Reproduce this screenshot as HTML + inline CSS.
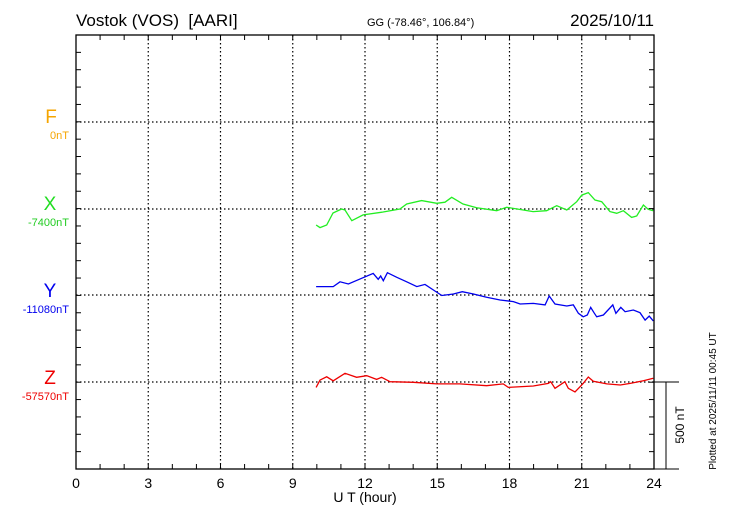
<!DOCTYPE html>
<html><head><meta charset="utf-8"><style>
body{margin:0;background:#fff;}
svg{display:block;font-family:"Liberation Sans",sans-serif;}
</style></head><body>
<svg id="chart" width="730" height="520" viewBox="0 0 730 520" xmlns="http://www.w3.org/2000/svg">
<text x="76" y="26" font-size="17" xml:space="preserve" style="white-space:pre">Vostok (VOS)  [AARI]</text>
<text x="367" y="26" font-size="11">GG (-78.46°, 106.84°)</text>
<text x="654" y="26" font-size="17" text-anchor="end">2025/10/11</text>
<g id="grid"></g>
<g id="series"></g>
<g id="axes"></g>
<text x="365" y="502" font-size="14" text-anchor="middle">U T (hour)</text>
<text x="51" y="123" font-size="19" fill="#f5a500" text-anchor="middle">F</text>
<text x="69" y="139" font-size="11" fill="#f5a500" text-anchor="end">0nT</text>
<text x="50" y="210" font-size="19" fill="#22dd22" text-anchor="middle">X</text>
<text x="69" y="226" font-size="11" fill="#22cc22" text-anchor="end">-7400nT</text>
<text x="50" y="297" font-size="19" fill="#0000ee" text-anchor="middle">Y</text>
<text x="69" y="313" font-size="11" fill="#0000ee" text-anchor="end">-11080nT</text>
<text x="50" y="384" font-size="19" fill="#ee0000" text-anchor="middle">Z</text>
<text x="69" y="400" font-size="11" fill="#ee0000" text-anchor="end">-57570nT</text>
<text transform="translate(684,425) rotate(-90)" font-size="12" text-anchor="middle">500 nT</text>
<text transform="translate(716,401) rotate(-90)" font-size="10" text-anchor="middle">Plotted at 2025/11/11 00:45 UT</text>
</svg>
<script>
const xTicks = [0,3,6,9,12,15,18,21,24];
const baselines = [0,0,0,0]; // F, X, Y, Z offsets (nT)
const xHours = [9.97,10.13,10.41,10.67,11.03,11.17,11.45,11.92,12.75,13.45,13.73,14.35,14.98,15.32,15.60,16.07,16.64,17.47,17.88,18.98,19.54,19.96,20.38,20.79,21.00,21.27,21.55,21.83,22.17,22.45,22.73,23.07,23.28,23.56,23.76,23.97];
const xValues = [-92,-107,-92,-23,0,-6,-67,-34,-17,0,29,48,33,39,67,29,7,-10,10,-15,-10,19,-6,42,80,94,52,42,-15,-25,-10,-48,-40,23,-2,-10];
const yHours = [9.97,10.68,10.96,11.31,11.86,12.34,12.55,12.65,12.76,12.93,13.32,13.73,14.15,14.49,14.84,15.19,15.67,16.04,16.50,17.05,17.61,18.16,18.44,18.99,19.48,19.65,19.89,20.38,20.65,20.86,21.06,21.23,21.37,21.51,21.62,21.90,22.29,22.42,22.62,22.80,23.14,23.42,23.63,23.80,23.97];
const yValues = [48,48,76,63,96,124,90,109,82,128,102,76,48,61,29,-3,6,19,6,-13,-29,-38,-52,-48,-57,-6,-52,-63,-57,-105,-125,-115,-71,-102,-125,-115,-57,-105,-71,-96,-86,-102,-144,-121,-149];
const zHours = [9.97,10.13,10.41,10.68,11.17,11.65,12.07,12.48,12.69,13.04,14.01,14.98,15.94,17.05,17.74,17.95,18.99,19.61,19.71,19.89,20.30,20.44,20.72,21.06,21.27,21.48,22.04,22.60,23.01,23.56,23.97];
const zValues = [-31,11,30,7,50,27,36,15,27,2,-2,-11,-11,-21,-11,-31,-23,-8,2,-36,2,-36,-57,-8,29,4,-11,-17,-8,7,21];

const L=76,R=654,T=35,B=469;
const rowY=[122,209,295,382];
const pxPerNT=87/500;
const xs=h=>L+(R-L)*h/24;
const ys=(row,v)=>rowY[row]-pxPerNT*(v-baselines[row]);
const NS='http://www.w3.org/2000/svg';
function mk(tag,attrs,parent){const e=document.createElementNS(NS,tag);for(const k in attrs)e.setAttribute(k,attrs[k]);parent.appendChild(e);return e;}
const grid=document.getElementById('grid'),axes=document.getElementById('axes'),series=document.getElementById('series');
rowY.forEach((y,i)=>{const l=mk('line',{x1:L,x2:R,y1:y,y2:y,stroke:'#000','stroke-width':1.2,'stroke-dasharray':'1.5,2.5'},grid);

});
xTicks.forEach(h=>{if(h>0&&h<24){const l=mk('line',{x1:xs(h),x2:xs(h),y1:T,y2:B,stroke:'#000','stroke-width':1.2,'stroke-dasharray':'1.5,2.5'},grid);

}
const t=mk('text',{x:xs(h),y:488,'font-size':14,'text-anchor':'middle'},axes);t.textContent=h;

});
const frame=mk('rect',{x:L,y:T,width:R-L,height:B-T,fill:'none',stroke:'#000','stroke-width':1.3},axes);


for(let h=1;h<24;h++){mk('line',{x1:xs(h),x2:xs(h),y1:T,y2:T+5,stroke:'#000'},axes);mk('line',{x1:xs(h),x2:xs(h),y1:B,y2:B-5,stroke:'#000'},axes);}
for(let k=1;k<25;k++){const y=T+k*(B-T)/25;mk('line',{x1:L,x2:L+5,y1:y,y2:y,stroke:'#000'},axes);mk('line',{x1:R,x2:R-5,y1:y,y2:y,stroke:'#000'},axes);}
mk('line',{x1:R,x2:679,y1:382,y2:382,stroke:'#000'},axes);
mk('line',{x1:R,x2:679,y1:B,y2:B,stroke:'#000'},axes);
const sb=mk('line',{x1:666,x2:666,y1:382,y2:B,stroke:'#000'},axes);


function draw(hrs,vals,row,color,name){const p=mk('polyline',{points:hrs.map((h,i)=>xs(h).toFixed(1)+','+ys(row,vals[i]).toFixed(1)).join(' '),fill:'none',stroke:color,'stroke-width':1.3},series);

}
draw(xHours,xValues,1,'#22ee22','x-component-line');
draw(yHours,yValues,2,'#0000ee','y-component-line');
draw(zHours,zValues,3,'#ee0000','z-component-line');
</script>
</body></html>
